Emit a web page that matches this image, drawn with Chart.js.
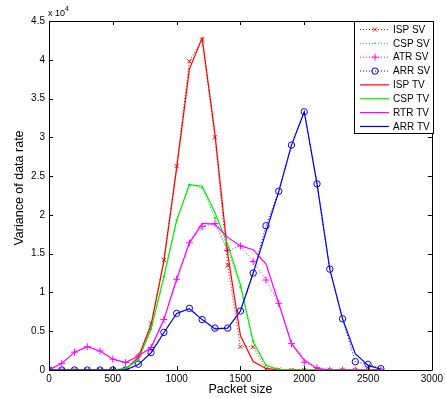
<!DOCTYPE html>
<html lang="en">
  <head>
    <meta charset="UTF-8">
    <title>Variance of data rate</title>
    <script src="https://cdn.jsdelivr.net/npm/chart.js"></script>
    <style>
      body {
        margin: 0;
        padding: 0;
        background-color: #ffffff;
      }
      #box {
        width: 446px;
        height: 398px;
      }
    </style>
  </head>
  <body>
  <div id="box">
    <canvas id="varChart" width="446" height="398"></canvas>
  </div>

  <script>
  // packet sizes (x axis)
  var packetSize = [0, 100, 200, 300, 400, 500, 600, 700, 800, 900, 1000, 1100, 1200, 1300,
                    1400, 1500, 1600, 1700, 1800, 1900, 2000, 2100, 2200, 2300, 2400, 2500, 2600];

  var ispSV = [0, 0, 0, 0, 0, 0, 100, 1800, 6000, 14200, 26300, 39800, 42600, 30000,
               13500, 3000, 3000, 100, 50, 0, 0, 0, 0, 0, 0, 0, 0];
  var cspSV = [0, 0, 0, 0, 0, 0, 200, 1300, 5300, 12000, 19300, 23900, 23500, 19600,
               15500, 10700, 3700, 600, 50, 0, 0, 0, 0, 0, 0, 0, 0];
  var atrSV = [0, 860, 2300, 3000, 2450, 1400, 950, 1800, 2900, 6500, 11700, 16400, 18500, 18900,
               15400, 16000, 14000, 11600, 8600, 3400, 1000, 300, 0, 0, 0, 0, 0];
  var arrSV = [0, 0, 0, 0, 0, 0, 0, 750, 2250, 4850, 7300, 7950, 6500, 5400,
               5400, 7600, 12500, 18600, 23050, 29000, 33300, 24000, 13000, 6600, 1070, 730, 170];

  var ispTV = [0, 0, 0, 0, 0, 0, 100, 1600, 5800, 14000, 26000, 38800, 42800, 30500,
               15000, 4400, 1100, 200, 0, 0, 0, 0, 0, 0, 0, 0, 0];
  var cspTV = [0, 0, 0, 0, 0, 0, 200, 1300, 5300, 12000, 19300, 23900, 23700, 20300,
               16200, 11000, 3600, 600, 50, 0, 0, 0, 0, 0, 0, 0, 0];
  var rtrTV = [0, 860, 2300, 3000, 2450, 1400, 950, 1800, 2900, 6500, 11700, 16400, 18900, 18800,
               17100, 16000, 15500, 13700, 8600, 3400, 1300, 200, 0, 0, 0, 0, 0];
  var arrTV = [0, 0, 0, 0, 0, 0, 0, 700, 2200, 4800, 7300, 7900, 6500, 5300,
               5400, 7600, 12500, 17800, 23000, 29000, 33300, 24000, 13000, 6600, 2100, 600, 100];

  var xTicks = [0, 500, 1000, 1500, 2000, 2500, 3000];
  var yTicks = [0, 5000, 10000, 15000, 20000, 25000, 30000, 35000, 40000, 45000];

  var RED = '#ff0000', GREEN = '#00ee00', MAG = '#ff00ff', BLUE = '#0000ff';
  var FONT = '"Liberation Sans", Arial, sans-serif';

  function pts(values) {
    return values.map(function (v, i) { return { x: packetSize[i], y: v }; });
  }

  function svSet(label, values, color, style, radius, order) {
    return {
      label: label,
      data: pts(values),
      borderColor: color,
      backgroundColor: color,
      borderWidth: 1,
      borderDash: [1, 2],
      pointStyle: style,
      pointRadius: radius,
      pointBorderWidth: 1,
      pointBackgroundColor: 'rgba(0,0,0,0)',
      pointBorderColor: color,
      tension: 0,
      order: order,
      sample: 'sv'
    };
  }

  function tvSet(label, values, color, order) {
    return {
      label: label,
      data: pts(values),
      borderColor: color,
      backgroundColor: color,
      borderWidth: 1.2,
      pointRadius: 0,
      tension: 0,
      order: order,
      sample: 'tv'
    };
  }

  var datasets = [
    svSet('ISP SV', ispSV, RED, 'crossRot', 3, 8),
    svSet('CSP SV', cspSV, GREEN, 'circle', 0.8, 7),
    svSet('ATR SV', atrSV, MAG, 'cross', 3.5, 6),
    svSet('ARR SV', arrSV, BLUE, 'circle', 3.2, 5),
    tvSet('ISP TV', ispTV, RED, 4),
    tvSet('CSP TV', cspTV, GREEN, 3),
    tvSet('RTR TV', rtrTV, MAG, 2),
    tvSet('ARR TV', arrTV, BLUE, 1)
  ];
  datasets[1].pointBackgroundColor = GREEN;

  function marker(ctx, style, r, x, y, color, filled) {
    ctx.strokeStyle = color;
    ctx.fillStyle = color;
    ctx.lineWidth = 1;
    ctx.beginPath();
    if (style == 'crossRot') {
      ctx.moveTo(x - r * 0.7, y - r * 0.7); ctx.lineTo(x + r * 0.7, y + r * 0.7);
      ctx.moveTo(x + r * 0.7, y - r * 0.7); ctx.lineTo(x - r * 0.7, y + r * 0.7);
      ctx.stroke();
    } else if (style == 'cross') {
      ctx.moveTo(x - r, y); ctx.lineTo(x + r, y);
      ctx.moveTo(x, y - r); ctx.lineTo(x, y + r);
      ctx.stroke();
    } else {
      ctx.arc(x, y, r, 0, Math.PI * 2);
      if (filled) ctx.fill(); else ctx.stroke();
    }
  }

  // box, inward ticks, axis titles, exponent and legend, matlab style
  var matlabFrame = {
    id: 'matlabFrame',
    afterDraw: function (chart) {
      var ctx = chart.ctx;
      var a = chart.chartArea;
      var xs = chart.scales.x, ys = chart.scales.y;
      ctx.save();
      ctx.strokeStyle = '#000';
      ctx.lineWidth = 1;
      ctx.beginPath();
      ctx.rect(Math.round(a.left) + 0.5, Math.round(a.top) + 0.5,
               Math.round(a.right - a.left), Math.round(a.bottom - a.top));
      ctx.stroke();

      ctx.beginPath();
      xTicks.forEach(function (t) {
        var px = Math.round(xs.getPixelForValue(t)) + 0.5;
        ctx.moveTo(px, a.bottom); ctx.lineTo(px, a.bottom - 4);
        ctx.moveTo(px, a.top); ctx.lineTo(px, a.top + 4);
      });
      yTicks.forEach(function (t) {
        var py = Math.round(ys.getPixelForValue(t)) + 0.5;
        ctx.moveTo(a.left, py); ctx.lineTo(a.left + 4, py);
        ctx.moveTo(a.right, py); ctx.lineTo(a.right - 4, py);
      });
      ctx.stroke();

      ctx.fillStyle = '#000';
      ctx.font = '12.5px ' + FONT;
      ctx.textAlign = 'center';
      ctx.textBaseline = 'middle';
      ctx.fillText('Packet size', (a.left + a.right) / 2, 390);
      ctx.save();
      ctx.translate(20, 188);
      ctx.rotate(-Math.PI / 2);
      ctx.fillText('Variance of data rate', 0, 0);
      ctx.restore();

      ctx.textAlign = 'left';
      ctx.font = '9px ' + FONT;
      ctx.fillText('x 10', 48, 14);
      ctx.font = '7px ' + FONT;
      ctx.fillText('4', 65, 9);

      // legend
      var lx = 354.5, ly = 21.5, lw = 79, lh = 112;
      ctx.fillStyle = '#fff';
      ctx.fillRect(lx, ly, lw, lh);
      ctx.strokeStyle = '#000';
      ctx.strokeRect(lx, ly, lw, lh);
      ctx.font = '10px ' + FONT;
      ctx.textBaseline = 'middle';
      datasets.forEach(function (ds, i) {
        var y = 29.5 + i * 13.85;
        ctx.save();
        ctx.strokeStyle = ds.borderColor;
        ctx.lineWidth = ds.sample == 'sv' ? 1 : 1.2;
        ctx.setLineDash(ds.sample == 'sv' ? [1, 2] : []);
        ctx.beginPath();
        ctx.moveTo(360, y); ctx.lineTo(389, y);
        ctx.stroke();
        ctx.setLineDash([]);
        if (ds.sample == 'sv') {
          marker(ctx, ds.pointStyle, ds.pointRadius, 375, y, ds.borderColor, ds.label == 'CSP SV');
        }
        ctx.restore();
        ctx.fillStyle = '#000';
        ctx.fillText(ds.label, 393, y + 0.5);
      });
      ctx.restore();
    }
  };

  var ctx = document.getElementById('varChart').getContext('2d');
  var varChart = new Chart(ctx, {
    type: 'line',
    data: { datasets: datasets },
    options: {
      responsive: false,
      animation: false,
      layout: {
        padding: { left: 0, right: 12, top: 21, bottom: 0 }
      },
      plugins: {
        legend: { display: false },
        tooltip: { enabled: false }
      },
      scales: {
        x: {
          type: 'linear',
          min: 0,
          max: 3000,
          afterFit: function (s) { s.height = 28; },
          afterBuildTicks: function (s) { s.ticks = xTicks.map(function (v) { return { value: v }; }); },
          grid: { display: false, drawTicks: false, tickLength: 0 },
          border: { display: false },
          ticks: {
            padding: 3,
            maxRotation: 0,
            color: '#000',
            font: { size: 10, family: FONT },
            callback: function (v) { return String(v); }
          }
        },
        y: {
          type: 'linear',
          min: 0,
          max: 45000,
          afterFit: function (s) { s.width = 49; },
          afterBuildTicks: function (s) { s.ticks = yTicks.map(function (v) { return { value: v }; }); },
          grid: { display: false, drawTicks: false, tickLength: 0 },
          border: { display: false },
          ticks: {
            padding: 4,
            color: '#000',
            font: { size: 10, family: FONT },
            callback: function (v) { return String(v / 10000); }
          }
        }
      }
    },
    plugins: [matlabFrame]
  });
  </script>
  </body>
</html>
